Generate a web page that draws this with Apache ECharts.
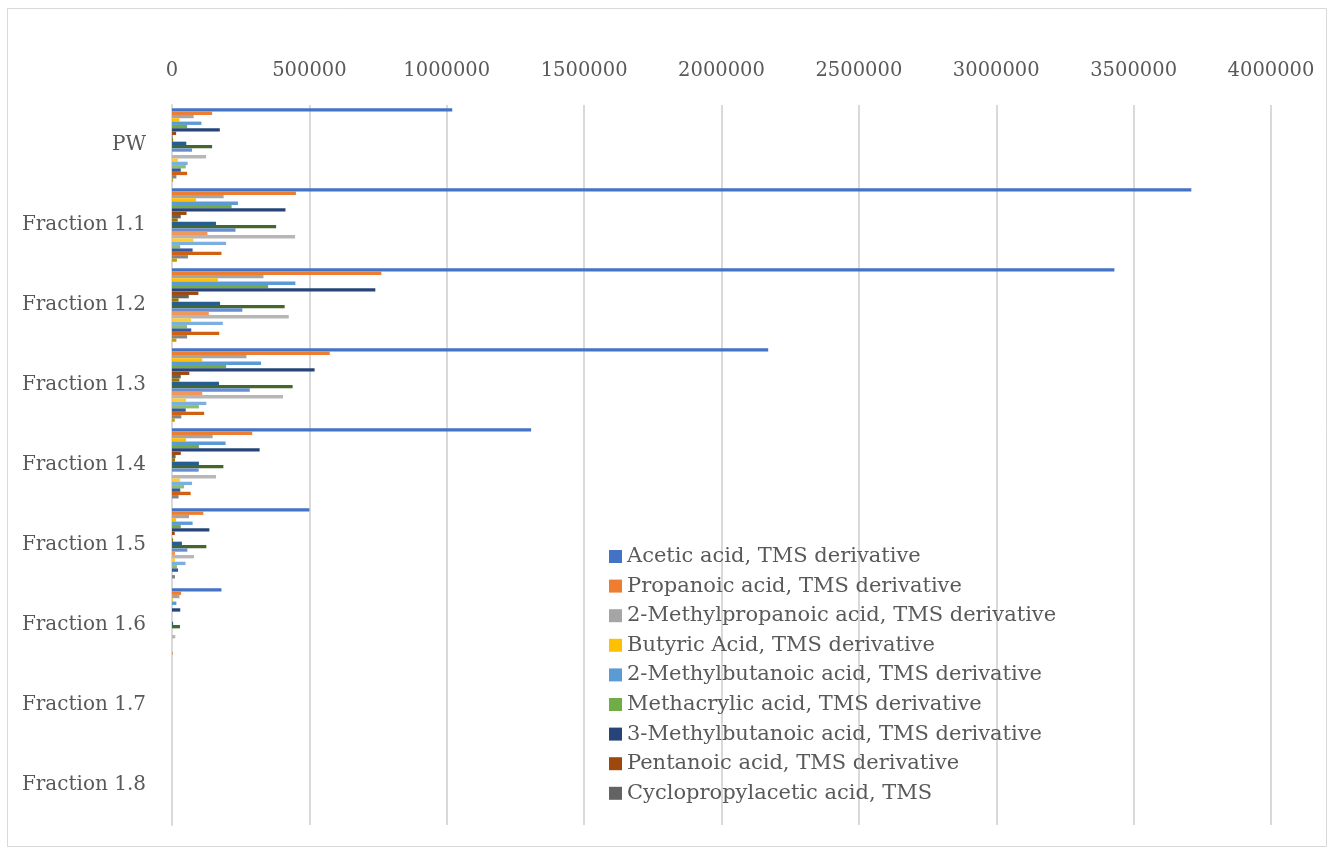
<!DOCTYPE html>
<html>
<head>
<meta charset="utf-8">
<script src="https://cdn.jsdelivr.net/npm/echarts@6/dist/echarts.min.js"></script>
<style>
  html, body { margin: 0; padding: 0; background: #ffffff; }
  #chart { width: 1334px; height: 854px; }
</style>
</head>
<body>
<div id="chart"></div>
<script>
// Sample groups, top to bottom
const categories = ['PW', 'Fraction 1.1', 'Fraction 1.2', 'Fraction 1.3', 'Fraction 1.4',
                    'Fraction 1.5', 'Fraction 1.6', 'Fraction 1.7', 'Fraction 1.8'];

// Axis ticks
const xTicks = [0, 500000, 1000000, 1500000, 2000000, 2500000, 3000000, 3500000, 4000000];

// Peak areas per compound, one value per sample group
const aceticAcid          = [1020000, 3710000, 3430000, 2170000, 1307000, 500000, 180000, 0, 0];
const propanoicAcid       = [146000, 451000, 762000, 574000, 292000, 114000, 33000, 0, 0];
const methylpropanoicAcid = [79000, 188000, 333000, 271000, 148000, 62000, 27000, 0, 0];
const butyricAcid         = [27000, 87000, 167000, 110000, 51000, 15000, 2500, 0, 0];
const methylbutanoicAcid2 = [107000, 240000, 449000, 324000, 195000, 75000, 16000, 0, 0];
const methacrylicAcid     = [55000, 217000, 350000, 197000, 98000, 32000, 0, 0, 0];
const methylbutanoicAcid3 = [174000, 413000, 740000, 519000, 319000, 136000, 30000, 0, 0];
const pentanoicAcid       = [15000, 53000, 96000, 63000, 32000, 10000, 0, 0, 0];
const cyclopropylacetic   = [2000, 32000, 61000, 32000, 13000, 0, 0, 0, 0];
const compound10 = [4000, 21000, 24000, 27000, 11000, 4000, 0, 0, 0];
const compound11 = [52000, 160000, 175000, 171000, 98000, 36000, 4000, 0, 0];
const compound12 = [146000, 379000, 410000, 439000, 187000, 125000, 29000, 0, 0];
const compound13 = [73000, 231000, 256000, 283000, 97000, 56000, 0, 0, 0];
const compound14 = [0, 129000, 134000, 110000, 0, 11000, 0, 0, 0];
const compound15 = [124000, 448000, 425000, 404000, 160000, 80000, 12000, 0, 0];
const compound16 = [22000, 78000, 69000, 51000, 29000, 11000, 0, 0, 0];
const compound17 = [57000, 197000, 185000, 125000, 73000, 49000, 0, 0, 0];
const compound18 = [50000, 30000, 55000, 98000, 44000, 18000, 0, 0, 0];
const compound19 = [32000, 75000, 70000, 50000, 30000, 22000, 0, 0, 0];
const compound20 = [55000, 180000, 172000, 117000, 68000, 0, 1500, 0, 0];
const compound21 = [16000, 58000, 55000, 34000, 24000, 11000, 0, 0, 0];
const compound22 = [4000, 18000, 16000, 10000, 0, 0, 0, 0, 0];

const seriesList = [
  ['Acetic acid, TMS derivative', aceticAcid, '#4472C4'],
  ['Propanoic acid, TMS derivative', propanoicAcid, '#ED7D31'],
  ['2-Methylpropanoic acid, TMS derivative', methylpropanoicAcid, '#A5A5A5'],
  ['Butyric Acid, TMS derivative', butyricAcid, '#FFC000'],
  ['2-Methylbutanoic acid, TMS derivative', methylbutanoicAcid2, '#5B9BD5'],
  ['Methacrylic acid, TMS derivative', methacrylicAcid, '#70AD47'],
  ['3-Methylbutanoic acid, TMS derivative', methylbutanoicAcid3, '#264478'],
  ['Pentanoic acid, TMS derivative', pentanoicAcid, '#9E480E'],
  ['Cyclopropylacetic acid, TMS', cyclopropylacetic, '#636363'],
  ['Compound 10', compound10, '#997300'],
  ['Compound 11', compound11, '#255E91'],
  ['Compound 12', compound12, '#43682B'],
  ['Compound 13', compound13, '#698ED0'],
  ['Compound 14', compound14, '#F1975A'],
  ['Compound 15', compound15, '#B7B7B7'],
  ['Compound 16', compound16, '#FFCD33'],
  ['Compound 17', compound17, '#7CAFDD'],
  ['Compound 18', compound18, '#8CC168'],
  ['Compound 19', compound19, '#335AA1'],
  ['Compound 20', compound20, '#D26012'],
  ['Compound 21', compound21, '#848484'],
  ['Compound 22', compound22, '#CC9A00']
];

const FONT = 'DejaVu Serif';
const TEXT = '#595959';
const GRID = '#D9D9D9';

const chart = echarts.init(document.getElementById('chart'), null, { renderer: 'canvas' });

chart.setOption({
  animation: false,
  backgroundColor: '#ffffff',
  textStyle: { fontFamily: FONT },
  graphic: [{
    type: 'rect',
    shape: { x: 7.5, y: 8.5, width: 1319, height: 838 },
    style: { fill: 'none', stroke: '#D9D9D9', lineWidth: 1 },
    silent: true
  }],
  grid: { left: 172, right: 63, top: 105, bottom: 29, containLabel: false },
  legend: {
    data: seriesList.slice(0, 9).map(s => s[0]),
    orient: 'vertical',
    left: 604,
    top: 541,
    icon: 'rect',
    itemWidth: 13,
    itemHeight: 13,
    itemGap: 8.6,
    textStyle: { fontFamily: FONT, fontSize: 21, color: TEXT, lineHeight: 21 }
  },
  xAxis: {
    type: 'value',
    position: 'top',
    min: xTicks[0],
    max: xTicks[xTicks.length - 1],
    interval: xTicks[1] - xTicks[0],
    axisLine: { show: false },
    axisTick: { show: false },
    axisLabel: {
      fontFamily: FONT, fontSize: 19.5, color: TEXT, margin: 24,
      formatter: v => String(v)
    },
    splitLine: { show: true, lineStyle: { color: GRID, width: 2 } }
  },
  yAxis: {
    type: 'category',
    inverse: true,
    data: categories,
    axisLine: { show: true, lineStyle: { color: GRID, width: 2 } },
    axisTick: { show: false },
    axisLabel: { fontFamily: FONT, fontSize: 20, color: TEXT, margin: 26 }
  },
  series: seriesList.map(([name, values, color]) => ({
    name: name,
    type: 'bar',
    data: values,
    itemStyle: { color: color },
    barGap: '0%',
    barCategoryGap: '8%'
  }))
});
</script>
</body>
</html>
